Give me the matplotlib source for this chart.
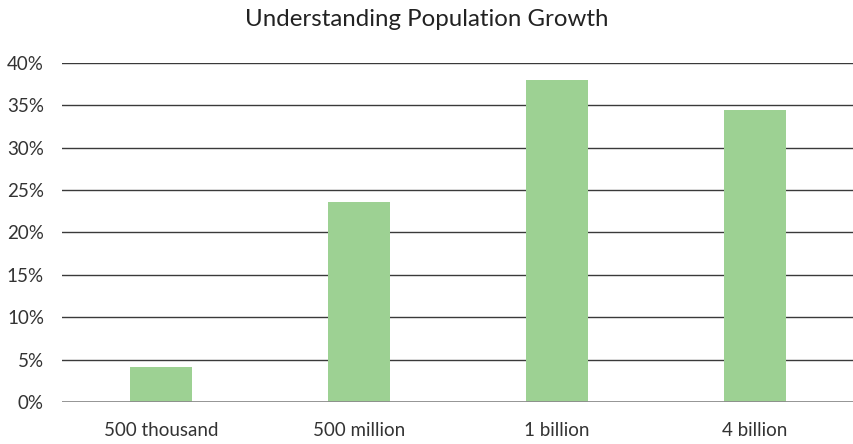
import matplotlib
matplotlib.use("Agg")
import matplotlib.pyplot as plt
from matplotlib.ticker import FuncFormatter

categories = ["500 thousand", "500 million", "1 billion", "4 billion"]
values = [4.1, 23.6, 37.9, 34.4]
yticks = [0, 5, 10, 15, 20, 25, 30, 35, 40]

plt.rcParams['font.family'] = ['Lato', 'DejaVu Sans']

fig = plt.figure(figsize=(8.54, 4.44), dpi=100)
ax = fig.add_axes([0.0726, 0.094, 0.9274, 0.765])

x = range(len(categories))
ax.bar(x, values, width=0.317, color="#9DD193", zorder=3)
ax.set_xlim(-0.5, len(categories) - 0.5)
ax.set_ylim(0, 40)
ax.set_yticks(yticks)
ax.yaxis.set_major_formatter(FuncFormatter(lambda v, p: f"{int(v)}%"))
ax.set_xticks(list(x))
ax.set_xticklabels(categories)
for y in yticks:
    if y == 0:
        ax.axhline(y, color="#8c8c8c", lw=1.3, zorder=4)
    else:
        ax.axhline(y, color="#3a3a3a", lw=1.0, zorder=1)
for s in ax.spines.values():
    s.set_visible(False)
ax.tick_params(axis="both", length=0, labelsize=13.5, colors="#333333")
ax.tick_params(axis="y", pad=13)
ax.tick_params(axis="x", pad=14)
fig.text(0.5, 0.955, "Understanding Population Growth", ha="center", va="center",
         fontsize=17.3, color="#222222")
fig.savefig("out.png", dpi=100)
